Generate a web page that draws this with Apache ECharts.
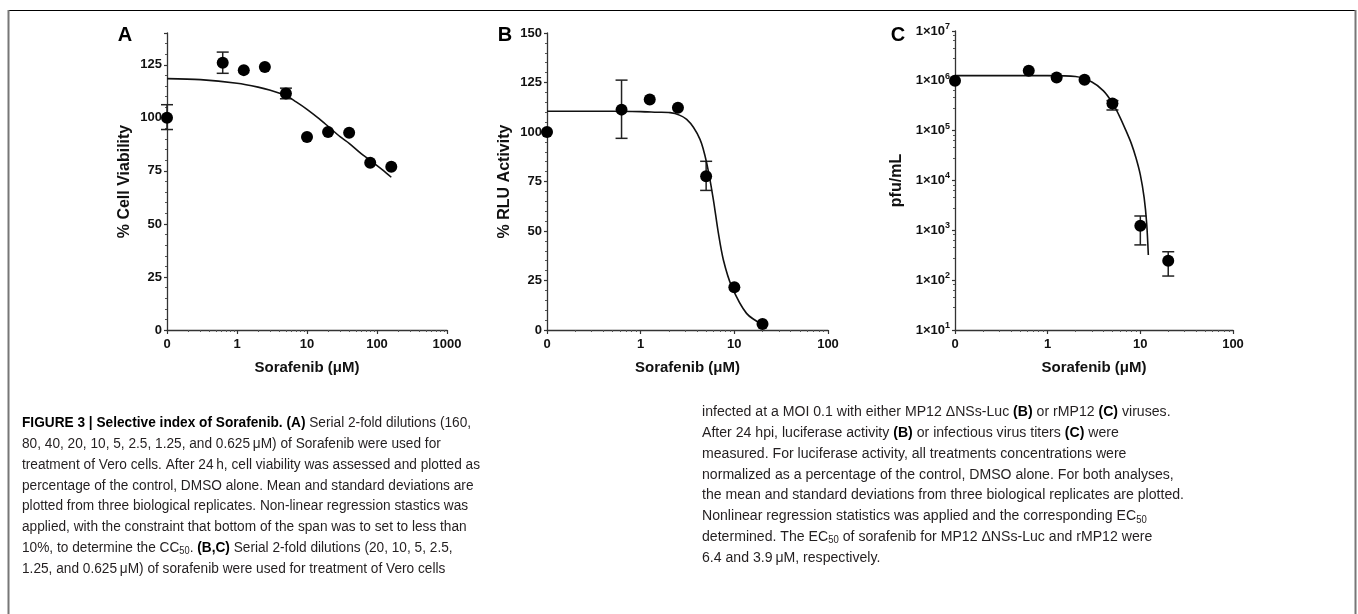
<!DOCTYPE html>
<html>
<head>
<meta charset="utf-8">
<script src="https://cdn.jsdelivr.net/npm/echarts@6/dist/echarts.min.js"></script>
<style>
  html, body { margin: 0; padding: 0; background: #fff; }
  #chart { width: 1358px; height: 614px; }
</style>
</head>
<body>
<div id="chart"></div>
<script>
// DMSO control (dose 0) sits on the "0" slot at the left end of the log axes
const ZERO_POS = 0.1;

// panel A - cell viability
const dosesA = [0, 0.625, 1.25, 2.5, 5, 10, 20, 40, 80, 160];
const viability = [100, 126, 122.5, 124, 111.5, 91, 93.3, 93, 78.8, 77];
const viabilityErr = [[0, 94.5, 106.2], [0.625, 121, 131], [5, 109, 114]];
const fitA = [[0.1, 118.5], [0.3, 118], [1, 116.3], [2, 114.5], [3, 113], [5, 110.5], [7, 107.5],
  [10, 104], [15, 99.5], [20, 96], [30, 91], [40, 88], [60, 83], [80, 80], [120, 75.5], [160, 72]];

// panels B and C share the doses
const dosesBC = [0, 0.625, 1.25, 2.5, 5, 10, 20];
const rlu = [100, 111.3, 116.4, 112.3, 77.6, 21.6, 3];
const rluErr = [[0.625, 96.8, 126.2], [5, 70.5, 85.2]];
const fitB = [[0.1, 110.5], [0.5, 110.5], [1, 110.3], [1.5, 110], [2.06, 109.8], [3.1, 106.4], [4.3, 96.3],
  [5.15, 82.8], [5.97, 65.9], [6.75, 49], [7.63, 35.5], [9.37, 22], [13.5, 8.4], [20.4, 2.5]];

const titer = [1.0e6, 1.6e6, 1.17e6, 1.05e6, 3.5e5, 1.23e3, 245];
const titerErr = [[5, 2.6e5, 4.0e5], [10, 510, 1.94e3], [20, 121, 372]];
const fitC = [[0.1, 1.27e6], [1, 1.27e6], [2, 1.22e6], [3, 9.5e5], [4, 6.3e5], [5, 3.6e5], [6, 1.9e5],
  [7, 1.0e5], [8, 5.5e4], [9, 2.8e4], [10, 1.3e4], [11, 4.5e3], [11.7, 1.4e3], [12.2, 320]];

const panelLetters = ['A', 'B', 'C'];
const yNames = ['% Cell Viability', '% RLU Activity', 'pfu/mL'];
const xName = 'Sorafenib (\u03bcM)';

const captionLeft = [
  '{b|FIGURE 3 | Selective index of Sorafenib. (A)} Serial 2-fold dilutions (160,',
  '80, 40, 20, 10, 5, 2.5, 1.25, and 0.625\u2009\u03bcM) of Sorafenib were used for',
  'treatment of Vero cells. After 24\u2009h, cell viability was assessed and plotted as',
  'percentage of the control, DMSO alone. Mean and standard deviations are',
  'plotted from three biological replicates. Non-linear regression stastics was',
  'applied, with the constraint that bottom of the span was to set to less than',
  '10%, to determine the CC{sub|50}. {b|(B,C)} Serial 2-fold dilutions (20, 10, 5, 2.5,',
  '1.25, and 0.625\u2009\u03bcM) of sorafenib were used for treatment of Vero cells'
];
const captionRight = [
  'infected at a MOI 0.1 with either MP12 \u0394NSs-Luc {b|(B)} or rMP12 {b|(C)} viruses.',
  'After 24 hpi, luciferase activity {b|(B)} or infectious virus titers {b|(C)} were',
  'measured. For luciferase activity, all treatments concentrations were',
  'normalized as a percentage of the control, DMSO alone. For both analyses,',
  'the mean and standard deviations from three biological replicates are plotted.',
  'Nonlinear regression statistics was applied and the corresponding EC{sub|50}',
  'determined. The EC{sub|50} of sorafenib for MP12 \u0394NSs-Luc and rMP12 were',
  '6.4 and 3.9\u2009\u03bcM, respectively.'
];

const FONT = '"Liberation Sans", Arial, sans-serif';
const INK = '#111';
const CAP_SIZE = 15.5;

const pos = d => (d === 0 ? ZERO_POS : d);
const pairs = (xs, ys) => xs.map((x, i) => [pos(x), ys[i]]);
const errRows = rows => rows.map(r => [pos(r[0]), r[1], r[2]]);

const grids = [
  { left: 167, top: 33, width: 280, height: 297 },
  { left: 547, top: 33, width: 281, height: 297 },
  { left: 955, top: 31, width: 278, height: 299 }
];

function xAxisFor(gi, max) {
  return {
    gridIndex: gi, type: 'log', logBase: 10, min: 0.1, max: max,
    axisLine: { lineStyle: { color: '#333', width: 1.3 } },
    axisTick: { length: 4, lineStyle: { color: '#333', width: 1.2 } },
    minorTick: { show: true, splitNumber: 9, length: 2, lineStyle: { color: '#555' } },
    splitLine: { show: false },
    axisLabel: {
      formatter: v => (v < 0.5 ? '0' : String(Math.round(v))),
      color: INK, fontWeight: 'bold', fontSize: 13, fontFamily: FONT, margin: 8
    },
    name: xName, nameLocation: 'middle', nameGap: 30,
    nameTextStyle: { color: INK, fontWeight: 'bold', fontSize: 15, fontFamily: FONT }
  };
}

function yAxisBase(gi) {
  return {
    gridIndex: gi,
    axisLine: { show: true, lineStyle: { color: '#333', width: 1.3 } },
    axisTick: { show: true, length: 3, lineStyle: { color: '#333', width: 1.2 } },
    minorTick: { show: true, splitNumber: 5, length: 2, lineStyle: { color: '#555' } },
    splitLine: { show: false },
    name: yNames[gi], nameLocation: 'middle', nameRotate: 90,
    nameTextStyle: { color: INK, fontWeight: 'bold', fontSize: 16, fontFamily: FONT }
  };
}

const yAxes = [
  Object.assign(yAxisBase(0), {
    type: 'value', min: 0, max: 140, interval: 25, nameGap: 34,
    axisLabel: { formatter: v => (v % 25 === 0 ? String(v) : ''), color: INK, fontWeight: 'bold', fontSize: 13, fontFamily: FONT, margin: 5 }
  }),
  Object.assign(yAxisBase(1), {
    type: 'value', min: 0, max: 150, interval: 25, nameGap: 34,
    axisLabel: { color: INK, fontWeight: 'bold', fontSize: 13, fontFamily: FONT, margin: 5 }
  }),
  Object.assign(yAxisBase(2), {
    type: 'log', logBase: 10, min: 10, max: 1e7, nameGap: 50,
    axisLabel: {
      formatter: v => '1\u00d710{s|' + Math.round(Math.log10(v)) + '}',
      color: INK, fontWeight: 'bold', fontSize: 13, fontFamily: FONT, margin: 5, lineHeight: 18,
      rich: { s: { fontSize: 9, fontWeight: 'bold', fontFamily: FONT, color: INK, verticalAlign: 'top', lineHeight: 9 } }
    },
    minorTick: { show: true, splitNumber: 5, length: 2, lineStyle: { color: '#555' } }
  })
];

function errorBarSeries(gi, rows) {
  return {
    type: 'custom', xAxisIndex: gi, yAxisIndex: gi, z: 2,
    data: errRows(rows),
    renderItem: function (params, api) {
      const lo = api.coord([api.value(0), api.value(1)]);
      const hi = api.coord([api.value(0), api.value(2)]);
      const w = 6;
      const st = { stroke: '#222', lineWidth: 1.5 };
      return {
        type: 'group',
        children: [
          { type: 'line', shape: { x1: lo[0], y1: lo[1], x2: hi[0], y2: hi[1] }, style: st },
          { type: 'line', shape: { x1: lo[0] - w, y1: lo[1], x2: lo[0] + w, y2: lo[1] }, style: st },
          { type: 'line', shape: { x1: hi[0] - w, y1: hi[1], x2: hi[0] + w, y2: hi[1] }, style: st }
        ]
      };
    }
  };
}

function dotSeries(gi, data) {
  return {
    type: 'scatter', xAxisIndex: gi, yAxisIndex: gi, z: 4,
    symbol: 'circle', symbolSize: 12, itemStyle: { color: '#000', opacity: 1 },
    data: data
  };
}

function fitSeries(gi, data) {
  return {
    type: 'line', xAxisIndex: gi, yAxisIndex: gi, z: 3,
    showSymbol: false, smooth: 0.3,
    lineStyle: { color: '#111', width: 1.6 },
    data: data
  };
}

// caption text is condensed in the original; squeeze a normal sans to match
const measureCtx = document.createElement('canvas').getContext('2d');
measureCtx.font = CAP_SIZE + 'px ' + FONT;
const plain = s => s.replace(/\{[a-z]+\|([^}]*)\}/g, '$1');
const scaleL = 458 / measureCtx.measureText(plain(captionLeft[2])).width;
const scaleR = 482 / measureCtx.measureText(plain(captionRight[4])).width;

const richCaption = {
  b: { fontWeight: 'bold', fontSize: CAP_SIZE, fontFamily: FONT, fill: '#000' },
  sub: { fontSize: 10.5, fontFamily: FONT, fill: '#231f20', verticalAlign: 'bottom', lineHeight: 12.5 }
};

function captionGroup(lines, x, y0, scale) {
  return {
    type: 'group', x: x, y: 0, scaleX: scale,
    children: lines.map((t, i) => ({
      type: 'text', x: 0, y: y0 + i * 20.8,
      style: {
        text: t, fill: '#231f20', fontSize: CAP_SIZE, fontFamily: FONT,
        verticalAlign: 'middle', lineHeight: 18.5, rich: richCaption
      }
    }))
  };
}

const letterPos = [[125, 35], [505, 35], [898, 35]];

const chart = echarts.init(document.getElementById('chart'));
chart.setOption({
  animation: false,
  backgroundColor: '#fff',
  grid: grids,
  xAxis: [xAxisFor(0, 1000), xAxisFor(1, 100), xAxisFor(2, 100)],
  yAxis: yAxes,
  series: [
    errorBarSeries(0, viabilityErr), fitSeries(0, fitA), dotSeries(0, pairs(dosesA, viability)),
    errorBarSeries(1, rluErr), fitSeries(1, fitB), dotSeries(1, pairs(dosesBC, rlu)),
    errorBarSeries(2, titerErr), fitSeries(2, fitC), dotSeries(2, pairs(dosesBC, titer))
  ],
  graphic: [
    { type: 'line', shape: { x1: 8, y1: 10.5, x2: 1356, y2: 10.5 }, style: { stroke: '#000', lineWidth: 1.2 } },
    { type: 'line', shape: { x1: 8.5, y1: 10, x2: 8.5, y2: 614 }, style: { stroke: '#777', lineWidth: 2 } },
    { type: 'line', shape: { x1: 1355.5, y1: 10, x2: 1355.5, y2: 614 }, style: { stroke: '#777', lineWidth: 2 } }
  ].concat(panelLetters.map((l, i) => ({
    type: 'text', x: letterPos[i][0], y: letterPos[i][1],
    style: { text: l, fill: '#000', fontSize: 20, fontWeight: 'bold', fontFamily: FONT, align: 'center', verticalAlign: 'middle' }
  }))).concat([
    captionGroup(captionLeft, 22, 423, scaleL),
    captionGroup(captionRight, 702, 412, scaleR)
  ])
});
</script>
</body>
</html>
